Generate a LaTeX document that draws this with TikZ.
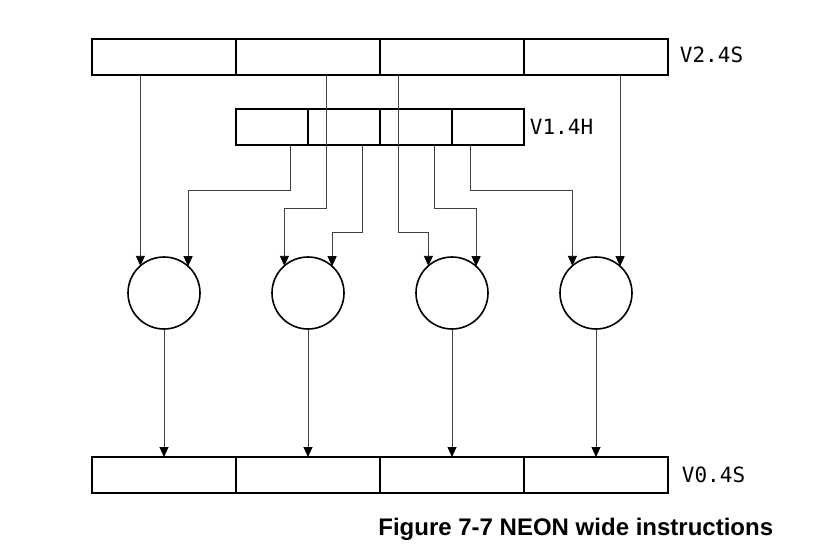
\documentclass[tikz,border=0pt]{standalone}
\usepackage{fontspec}
\setmainfont{Liberation Sans}
\setmonofont{DejaVu Sans Mono}
\usetikzlibrary{arrows.meta, calc, matrix, positioning}

\begin{document}
\begin{tikzpicture}[x=1pt, y=-1pt,
    lane/.style={draw, line width=1.1pt, minimum width=144pt, minimum height=36pt, inner sep=0pt, outer sep=0pt},
    halflane/.style={lane, minimum width=72pt},
    op/.style={draw, circle, line width=1.6pt, minimum size=72pt, inner sep=0pt, outer sep=0pt},
    wire/.style={draw=black!75, line width=0.9pt},
    feed/.style={wire, -{Triangle[length=10pt, width=9pt, color=black]}},
    reg/.style={font=\ttfamily\fontsize{21}{24}\selectfont, inner sep=0pt}]

    \useasboundingbox (0,0) rectangle (837,548);

    % Source register V2.4S
    \matrix (v2) [matrix of nodes, nodes in empty cells, nodes={lane}, column sep=-1.1pt, inner sep=0pt] at (380,57) {
        & & & \\
    };
    \node[reg, right=11pt of v2, yshift=2pt] (v2name) {V2.4S};

    % Source register V1.4H, lower half only
    \matrix (v1) [matrix of nodes, nodes in empty cells, nodes={halflane}, column sep=-1.1pt, inner sep=0pt] at (380,127) {
        & & & \\
    };
    \node[reg, right=5pt of v1] (v1name) {V1.4H};

    % Operations
    \node[op] (c1) at (164,293) {};
    \node[op] (c2) at (308,293) {};
    \node[op] (c3) at (452,293) {};
    \node[op] (c4) at (596,293) {};

    % Destination register V0.4S
    \matrix (v0) [matrix of nodes, nodes in empty cells, nodes={lane}, column sep=-1.1pt, inner sep=0pt] at (380,475) {
        & & & \\
    };
    \node[reg, right=13pt of v0] (v0name) {V0.4S};

    \node[font=\bfseries\fontsize{24}{28}\selectfont, inner sep=0pt] (caption) at ($(v0.south east)+(-93,36)$) {Figure 7-7 NEON wide instructions};

    % Bend levels of the half-word wires
    \coordinate (bendA) at (0,190);
    \coordinate (bendB) at (0,208);
    \coordinate (bendC) at (0,232);

    % Operands into each operation
    \draw[feed] (c1.131.81 |- v2-1-1.south) -- (c1.131.81);
    \draw[feed] ([xshift=18pt]v1-1-1.south) |- (bendA -| c1.48.19) -- (c1.48.19);

    \draw[feed] ([xshift=18pt]v2-1-2.south) |- (bendB -| c2.131.81) -- (c2.131.81);
    \draw[feed] ([xshift=18pt]v1-1-2.south) |- (bendC -| c2.48.19) -- (c2.48.19);

    \draw[feed] ([xshift=-54pt]v2-1-3.south) |- (bendC -| c3.131.81) -- (c3.131.81);
    \draw[feed] ([xshift=18pt]v1-1-3.south) |- (bendB -| c3.48.19) -- (c3.48.19);

    \draw[feed] ([xshift=-18pt]v1-1-4.south) |- (bendA -| c4.131.81) -- (c4.131.81);
    \draw[feed] (c4.48.19 |- v2-1-4.south) -- (c4.48.19);

    % Results
    \draw[feed] (c1.south) -- (v0-1-1.north);
    \draw[feed] (c2.south) -- (v0-1-2.north);
    \draw[feed] (c3.south) -- (v0-1-3.north);
    \draw[feed] (c4.south) -- (v0-1-4.north);

\end{tikzpicture}
\end{document}
